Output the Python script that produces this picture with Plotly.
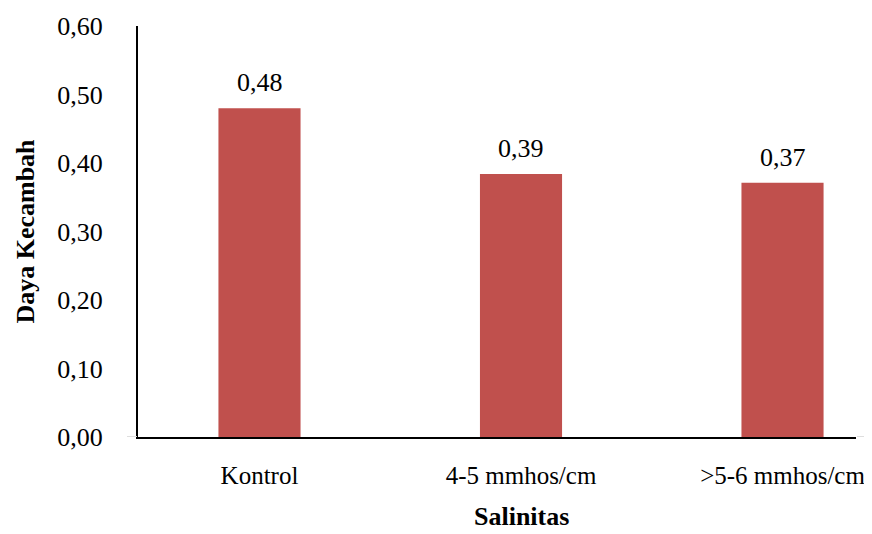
import plotly.graph_objects as go

categories = ["Kontrol", "4-5 mmhos/cm", ">5-6 mmhos/cm"]
values = [0.48, 0.384, 0.371]
value_labels = ["0,48", "0,39", "0,37"]
y_ticks = [0.0, 0.1, 0.2, 0.3, 0.4, 0.5, 0.6]
y_tick_labels = ["0,00", "0,10", "0,20", "0,30", "0,40", "0,50", "0,60"]

FONT = "Liberation Serif"
BAR = "#C0504D"
FS = 26

fig = go.Figure()
fig.add_trace(go.Bar(
    x=list(range(len(categories))), y=values,
    width=0.314, marker=dict(color=BAR, line=dict(width=0)),
    hoverinfo="skip",
))

for i, (v, t) in enumerate(zip(values, value_labels)):
    fig.add_annotation(x=i, y=v, xref="x", yref="y", text=t, showarrow=False,
                       yanchor="bottom", yshift=9,
                       font=dict(family=FONT, size=FS, color="black"))

fig.add_annotation(x=1, xref="x", y=-0.234, yref="paper", text="<b>Salinitas</b>",
                   showarrow=False, yanchor="bottom",
                   font=dict(family=FONT, size=FS, color="black"))

# faint plot-area border remnants (right end of x baseline, left tick at zero)
fig.add_shape(type="line", xref="paper", yref="y", x0=1.0014, x1=1.03, y0=0, y1=0,
              line=dict(color="#dedede", width=2))
fig.add_shape(type="line", xref="paper", yref="y", x0=-0.0153, x1=-0.0014, y0=0, y1=0,
              line=dict(color="#dedede", width=2))

fig.update_layout(
    width=864, height=526,
    margin=dict(l=130, r=16, t=18, b=97, autoexpand=False),
    plot_bgcolor="white", paper_bgcolor="white",
    showlegend=False,
    font=dict(family=FONT, size=FS, color="black"),
    xaxis=dict(
        range=[-0.4646, 2.281], automargin=False,
        tickmode="array", tickvals=list(range(len(categories))), ticktext=categories,
        showgrid=False, zeroline=False,
        showline=True, linecolor="black", linewidth=2,
        ticks="", ticklabelstandoff=15,
        tickfont=dict(family=FONT, size=25, color="black"),
    ),
    yaxis=dict(
        range=[0, 0.6], automargin=False,
        tickmode="array", tickvals=y_ticks, ticktext=y_tick_labels,
        showgrid=False, zeroline=False,
        showline=True, linecolor="black", linewidth=2,
        ticks="", ticklabelstandoff=28,
        tickfont=dict(family=FONT, size=FS, color="black"),
        title=dict(text="<b>Daya Kecambah</b>", standoff=15,
                   font=dict(family=FONT, size=FS, color="black")),
    ),
)

fig.write_html("out.html")
